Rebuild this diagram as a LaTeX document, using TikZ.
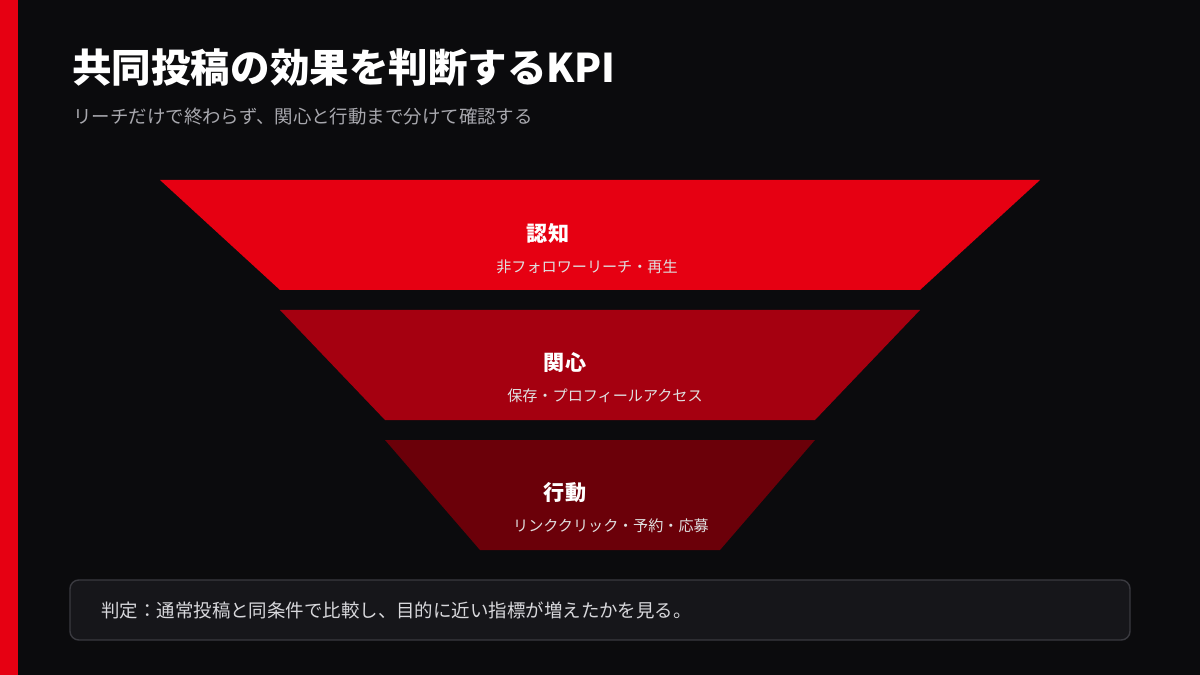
\documentclass[tikz,border=0pt]{standalone}
\usepackage{fontspec}
\setmainfont{Noto Sans CJK JP}
\usetikzlibrary{positioning}
\definecolor{bgdark}{HTML}{0B0B0D}
\definecolor{accent}{HTML}{E60012}
\definecolor{midred}{HTML}{A50010}
\definecolor{deepred}{HTML}{6B0009}
\definecolor{boxfill}{HTML}{16161A}
\definecolor{boxline}{HTML}{3A3A40}
\definecolor{subgray}{HTML}{A8A8AE}
\definecolor{notegray}{HTML}{D8D8DC}
\tikzset{
    stage/.style={draw=none},
    stagename/.style={text=white, font=\fontsize{12}{14}\selectfont\bfseries, inner sep=0pt},
    stagesub/.style={text=white!88!black, font=\fontsize{8.6}{10}\selectfont, inner sep=0pt}
}
\begin{document}
\begin{tikzpicture}[x=0.02cm, y=-0.02cm]
        \fill[bgdark] (0,0) rectangle (1200,675);
        \useasboundingbox (0,0) rectangle (1200,675);
        \fill[accent] (0,0) rectangle (18,675);
        % title
        \node (title) [anchor=west, text=white, inner sep=0pt, font=\fontsize{22.5}{26}\selectfont\bfseries] at (72,68) {共同投稿の効果を判断するKPI};
        \node (subtitle) [anchor=west, text=subgray, inner sep=0pt, font=\fontsize{10.5}{12}\selectfont] at (73,117) {リーチだけで終わらず、関心と行動まで分けて確認する};
        % funnel
        \fill[stage, accent] (160,180) -- (1040,180) -- (920,290) -- (280,290) -- cycle;
        \fill[stage, midred] (280,310) -- (920,310) -- (815,420) -- (385,420) -- cycle;
        \fill[stage, deepred] (385,440) -- (815,440) -- (720,550) -- (480,550) -- cycle;
        \node (n1) [stagename] at (548,233) {認知};
        \node (s1) [stagesub] at (587,267) {非フォロワーリーチ・再生};
        \node (n2) [stagename] at (565,363) {関心};
        \node (s2) [stagesub] at (605,396) {保存・プロフィールアクセス};
        \node (n3) [stagename] at (565,493) {行動};
        \node (s3) [stagesub] at (611,526) {リンククリック・予約・応募};
        % note
        \draw[boxline, fill=boxfill, line width=0.8pt, rounded corners=5pt] (70,580) rectangle (1130,640);
        \node (note) [anchor=west, text=notegray, inner sep=0pt, font=\fontsize{10.5}{12}\selectfont] at (101,610) {判定：通常投稿と同条件で比較し、目的に近い指標が増えたかを見る。};
\end{tikzpicture}
\end{document}
